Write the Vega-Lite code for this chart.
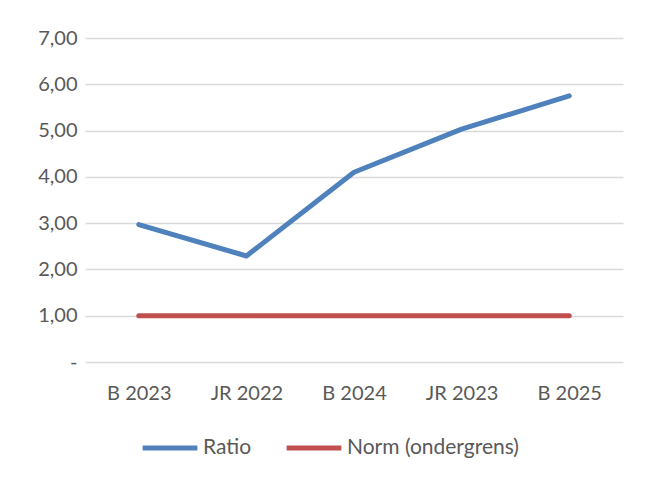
{
  "$schema": "https://vega.github.io/schema/vega-lite/v6.json",
  "width": 538,
  "height": 324,
  "autosize": {"type": "none"},
  "padding": {"left": 85, "top": 38, "right": 24, "bottom": 121},
  "background": "white",
  "config": {
    "view": {"stroke": null},
    "font": "Lato",
    "axis": {"labelFont": "Lato", "labelColor": "#595959", "labelFontSize": 20, "gridColor": "#d9d9d9", "gridWidth": 1.3, "domain": false, "ticks": false},
    "legend": {"labelFont": "Lato", "labelColor": "#595959", "labelFontSize": 21, "labelLimit": 400}
  },
  "data": {
    "values": [
      {"jaar": "B 2023", "serie": "Ratio", "waarde": 2.97},
      {"jaar": "JR 2022", "serie": "Ratio", "waarde": 2.29},
      {"jaar": "B 2024", "serie": "Ratio", "waarde": 4.10},
      {"jaar": "JR 2023", "serie": "Ratio", "waarde": 5.03},
      {"jaar": "B 2025", "serie": "Ratio", "waarde": 5.75},
      {"jaar": "B 2023", "serie": "Norm (ondergrens)", "waarde": 1.0},
      {"jaar": "JR 2022", "serie": "Norm (ondergrens)", "waarde": 1.0},
      {"jaar": "B 2024", "serie": "Norm (ondergrens)", "waarde": 1.0},
      {"jaar": "JR 2023", "serie": "Norm (ondergrens)", "waarde": 1.0},
      {"jaar": "B 2025", "serie": "Norm (ondergrens)", "waarde": 1.0}
    ]
  },
  "mark": {"type": "line", "strokeWidth": 5, "strokeCap": "round", "strokeJoin": "round"},
  "encoding": {
    "x": {
      "field": "jaar", "type": "ordinal",
      "sort": ["B 2023", "JR 2022", "B 2024", "JR 2023", "B 2025"],
      "scale": {"type": "point", "padding": 0.5},
      "axis": {"title": null, "labelAngle": 0, "labelPadding": 21, "grid": false}
    },
    "y": {
      "field": "waarde", "type": "quantitative",
      "scale": {"domain": [0, 7], "nice": false},
      "axis": {
        "title": null, "values": [0, 1, 2, 3, 4, 5, 6, 7], "labelPadding": 8,
        "labelExpr": "datum.value == 0 ? '-' : replace(format(datum.value, '.2f'), '.', ',')",
        "encode": {"labels": {"update": {"dx": {"signal": "datum.value == 0 ? -12 : 0"}}}}
      }
    },
    "color": {
      "field": "serie", "type": "nominal",
      "sort": ["Ratio", "Norm (ondergrens)"],
      "scale": {"domain": ["Ratio", "Norm (ondergrens)"], "range": ["#4f81bd", "#c0504d"]},
      "legend": {
        "title": null, "orient": "none", "direction": "horizontal",
        "legendX": 55, "legendY": 380,
        "symbolType": "stroke", "symbolSize": 3000, "symbolStrokeWidth": 5,
        "labelOffset": 3, "columnPadding": 24
      }
    }
  }
}
